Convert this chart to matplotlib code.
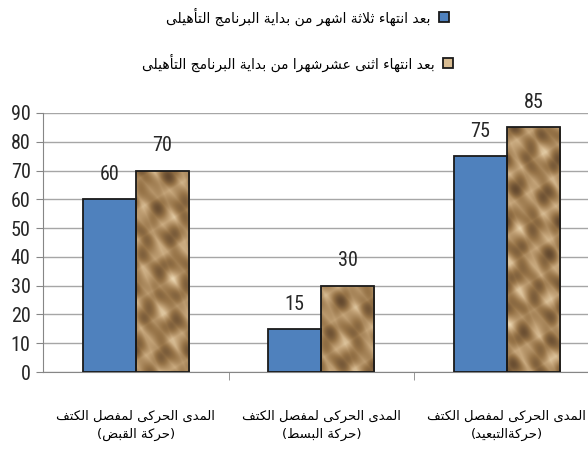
import numpy as np
import matplotlib
matplotlib.use("Agg")
import matplotlib.pyplot as plt
from matplotlib.patches import Rectangle
from matplotlib import font_manager

# ---- data ----
categories = ["المدى الحركى لمفصل الكتف\n(حركة القبض)",
              "المدى الحركى لمفصل الكتف\n(حركة البسط)",
              "المدى الحركى لمفصل الكتف\n(حركةالتبعيد)"]
after_3_months = [60, 15, 75]
after_12_months = [70, 30, 85]
series_names = ["بعد انتهاء ثلاثة اشهر من بداية البرنامج التأهيلى",
                "بعد انتهاء اثنى عشرشهرا من بداية البرنامج التأهيلى"]
yticks = list(range(0, 100, 10))

# ---- minimal arabic shaping (matplotlib has no bidi / joining) ----
# char: (isolated, final, initial, medial); right-joining letters have 2 forms
FORMS = {
    "ء": (0xFE80,), "آ": (0xFE81, 0xFE82), "أ": (0xFE83, 0xFE84),
    "ؤ": (0xFE85, 0xFE86), "إ": (0xFE87, 0xFE88),
    "ئ": (0xFE89, 0xFE8A, 0xFE8B, 0xFE8C), "ا": (0xFE8D, 0xFE8E),
    "ب": (0xFE8F, 0xFE90, 0xFE91, 0xFE92), "ة": (0xFE93, 0xFE94),
    "ت": (0xFE95, 0xFE96, 0xFE97, 0xFE98), "ث": (0xFE99, 0xFE9A, 0xFE9B, 0xFE9C),
    "ج": (0xFE9D, 0xFE9E, 0xFE9F, 0xFEA0), "ح": (0xFEA1, 0xFEA2, 0xFEA3, 0xFEA4),
    "خ": (0xFEA5, 0xFEA6, 0xFEA7, 0xFEA8), "د": (0xFEA9, 0xFEAA),
    "ذ": (0xFEAB, 0xFEAC), "ر": (0xFEAD, 0xFEAE), "ز": (0xFEAF, 0xFEB0),
    "س": (0xFEB1, 0xFEB2, 0xFEB3, 0xFEB4), "ش": (0xFEB5, 0xFEB6, 0xFEB7, 0xFEB8),
    "ص": (0xFEB9, 0xFEBA, 0xFEBB, 0xFEBC), "ض": (0xFEBD, 0xFEBE, 0xFEBF, 0xFEC0),
    "ط": (0xFEC1, 0xFEC2, 0xFEC3, 0xFEC4), "ظ": (0xFEC5, 0xFEC6, 0xFEC7, 0xFEC8),
    "ع": (0xFEC9, 0xFECA, 0xFECB, 0xFECC), "غ": (0xFECD, 0xFECE, 0xFECF, 0xFED0),
    "ف": (0xFED1, 0xFED2, 0xFED3, 0xFED4), "ق": (0xFED5, 0xFED6, 0xFED7, 0xFED8),
    "ك": (0xFED9, 0xFEDA, 0xFEDB, 0xFEDC), "ل": (0xFEDD, 0xFEDE, 0xFEDF, 0xFEE0),
    "م": (0xFEE1, 0xFEE2, 0xFEE3, 0xFEE4), "ن": (0xFEE5, 0xFEE6, 0xFEE7, 0xFEE8),
    "ه": (0xFEE9, 0xFEEA, 0xFEEB, 0xFEEC), "و": (0xFEED, 0xFEEE),
    "ى": (0xFEEF, 0xFEF0), "ي": (0xFEF1, 0xFEF2, 0xFEF3, 0xFEF4),
}
LAM_ALEF = {"ا": (0xFEFB, 0xFEFC), "أ": (0xFEF7, 0xFEF8),
            "آ": (0xFEF5, 0xFEF6), "إ": (0xFEF9, 0xFEFA)}


def dual(c):
    return c in FORMS and len(FORMS[c]) == 4


def shape_line(s):
    out = []
    i = 0
    n = len(s)
    while i < n:
        c = s[i]
        prev_joins = i > 0 and dual(s[i - 1])
        if c == "ل" and i + 1 < n and s[i + 1] in LAM_ALEF:
            iso, fin = LAM_ALEF[s[i + 1]]
            out.append(chr(fin if prev_joins else iso))
            i += 2
            continue
        if c not in FORMS:
            out.append(c)
            i += 1
            continue
        f = FORMS[c]
        if len(f) == 1:
            out.append(chr(f[0]))
        else:
            next_joins = dual(c) and i + 1 < n and s[i + 1] in FORMS
            if prev_joins and next_joins:
                out.append(chr(f[3]))
            elif prev_joins:
                out.append(chr(f[1]))
            elif next_joins:
                out.append(chr(f[2]))
            else:
                out.append(chr(f[0]))
        i += 1
    vis = "".join(out)[::-1]
    return vis.translate(str.maketrans("()", ")("))


def ar(s):
    return "\n".join(shape_line(line) for line in s.split("\n"))


# ---- fonts ----
names = {f.name for f in font_manager.fontManager.ttflist}
num_font = "DejaVu Sans"
for cand in ("Liberation Sans Narrow", "Roboto Condensed", "Open Sans Condensed"):
    if cand in names:
        num_font = cand
        break
num_kw = dict(family=num_font, stretch="condensed", fontsize=14.5, color="#262626")
ar_font = "DejaVu Sans"

blue = "#4F81BD"
tan = "#BE9C70"

fig = plt.figure(figsize=(5.88, 4.57), dpi=100)
ax = fig.add_axes([43 / 588, 85 / 457, 545 / 588, 259 / 457])

x = np.arange(len(categories))
w = 0.286
bars1 = ax.bar(x - w / 2, after_3_months, w, color=blue, edgecolor="#1a1a1a",
               linewidth=1.3, zorder=3)
bars2 = ax.bar(x + w / 2, after_12_months, w, color=tan, edgecolor="none",
               zorder=2)


def paper(ph):
    # crumpled paper look, roughly isotropic in pixels
    gx, gy = np.meshgrid(np.linspace(0, 0.2, 60), np.linspace(0, 1, 300))
    return (1 - np.abs(np.sin(31 * gx + 13 * gy + 0.4 + ph))
            + 0.9 * (1 - np.abs(np.sin(17 * gx - 27 * gy + 1.1 + 2 * ph)))
            + 0.6 * (1 - np.abs(np.sin(45 * gx + 38 * gy + 2.3 - ph)))
            + 0.4 * np.sin(60 * gx - 21 * gy + 0.7 + 3 * ph)
            + 0.3 * np.sin(8 * gx + 55 * gy + ph))


cmap = matplotlib.colors.LinearSegmentedColormap.from_list(
    "paper", ["#654a2f", "#977448", "#C4A479", "#EAD5B0"])
for k, b in enumerate(bars2):
    x0, y0 = b.get_x(), b.get_y()
    im = ax.imshow(paper(1.7 * k), cmap=cmap, aspect="auto", origin="lower",
                   extent=(x0, x0 + b.get_width(), y0, y0 + 90), zorder=2.5)
    im.set_clip_path(b)
ax.bar(x + w / 2, after_12_months, w, fill=False, edgecolor="#1a1a1a",
       linewidth=1.3, zorder=3)

for bars in (bars1, bars2):
    ax.bar_label(bars, padding=11, **num_kw)

ax.set_xlim(-0.5, 2.437)
ax.set_ylim(0, 90)
ax.set_yticks(yticks)
ax.set_yticklabels([str(v) for v in yticks], **num_kw)
ax.yaxis.grid(True, color="#a6a6a6", linewidth=1)
ax.set_axisbelow(True)

ax.set_xticks(x)
ax.set_xticklabels([ar(c) for c in categories], family=ar_font, fontsize=9.5,
                   linespacing=1.55, color="black")
ax.set_xticks([0.5, 1.5], minor=True)
ax.tick_params(axis="x", which="major", length=0, pad=27)
ax.tick_params(axis="x", which="minor", length=6, color="#868686", direction="out")
ax.tick_params(axis="y", length=5, color="#868686", pad=4)

for s in ("top", "right"):
    ax.spines[s].set_visible(False)
for s in ("left", "bottom"):
    ax.spines[s].set_color("#868686")

# legend drawn by hand, right-to-left with the key to the right of the text
rows_y = [1 - 17 / 457, 1 - 63 / 457]
keys = [dict(facecolor=blue, edgecolor="#1a1a1a"),
        dict(facecolor="#D8BC92", edgecolor="#1a1a1a")]
key_x = [439 / 588, 443 / 588]
for name, yy, k, kx in zip(series_names, rows_y, keys, key_x):
    fig.text(kx - 8 / 588, yy, ar(name), family=ar_font, fontsize=10,
             ha="right", va="center")
    fig.patches.append(Rectangle((kx, yy - 5 / 457), 10 / 588, 10 / 457,
                                 transform=fig.transFigure, linewidth=1.3, **k))

fig.savefig("out.png", dpi=100)
